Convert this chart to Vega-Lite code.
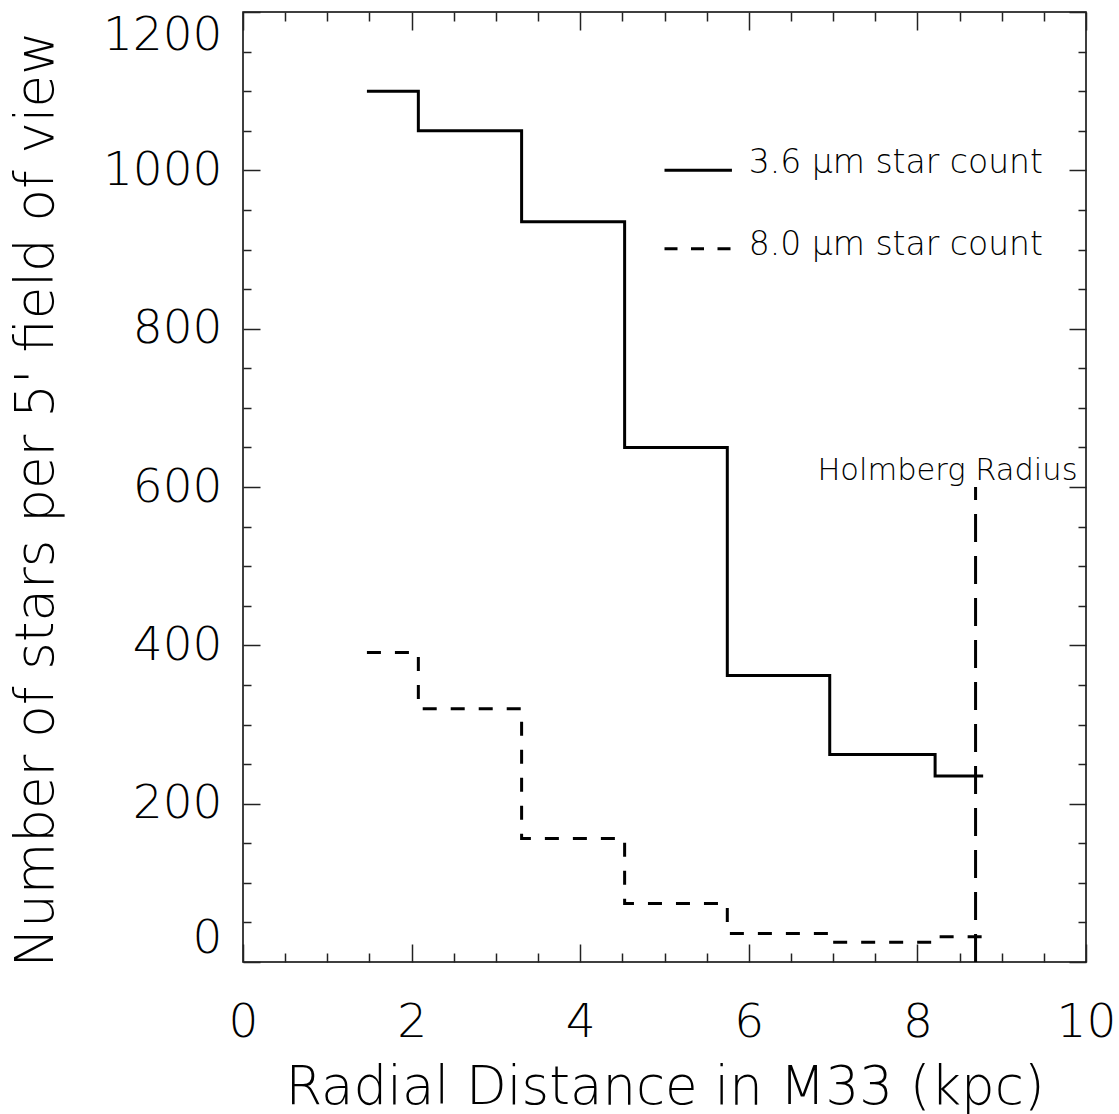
{
  "$schema": "https://vega.github.io/schema/vega-lite/v6.json",
  "width": 843,
  "height": 950,
  "autosize": "none",
  "padding": {"left": 243, "top": 12, "right": 33, "bottom": 152},
  "background": "white",
  "config": {
    "view": {"stroke": "black", "strokeWidth": 1.5},
    "font": "DejaVu Sans",
    "axis": {
      "grid": false,
      "domain": false,
      "tickColor": "#222222",
      "tickWidth": 1.5,
      "labelFont": "DejaVu Sans",
      "titleFont": "DejaVu Sans",
      "labelFontWeight": 200,
      "titleFontWeight": 200,
      "labelColor": "black",
      "titleColor": "black"
    }
  },
  "resolve": {"axis": {"x": "independent", "y": "independent"}},
  "layer": [
    {
      "data": {"values": [
        {"r": 1.47, "n": 1100},
        {"r": 2.08, "n": 1050},
        {"r": 3.305, "n": 935},
        {"r": 4.527, "n": 650},
        {"r": 5.745, "n": 362},
        {"r": 6.96, "n": 262},
        {"r": 8.21, "n": 235},
        {"r": 8.78, "n": 235}
      ]},
      "mark": {"type": "line", "interpolate": "step-after", "strokeWidth": 3, "color": "black"},
      "encoding": {
        "x": {"field": "r", "type": "quantitative",
          "scale": {"domain": [0, 10], "nice": false, "zero": false},
          "axis": {"orient": "bottom", "values": [0, 2, 4, 6, 8, 10], "tickSize": -18, "labelPadding": 55,
            "labelFontSize": 47, "labelFlush": false, "labelOverlap": false, "format": "d",
            "title": "Radial Distance in M33 (kpc)", "titleFontSize": 53, "titleBaseline": "alphabetic", "titleY": 141, "titleX": 421.5}},
        "y": {"field": "n", "type": "quantitative",
          "scale": {"domain": [0, 1200], "nice": false, "zero": false},
          "axis": {"orient": "left", "values": [0, 200, 400, 600, 800, 1000, 1200], "tickSize": -17, "labelPadding": 38,
            "labelFontSize": 47, "labelFlush": true, "labelFlushOffset": 0, "labelOverlap": false, "format": "d",
            "title": "Number of stars per 5' field of view", "titleFontSize": 53, "titleBaseline": "alphabetic", "titleAngle": 270, "titleX": -191, "titleY": 487}}
      }
    },
    {
      "data": {"values": [
        {"r": 1.47, "n": 391},
        {"r": 2.08, "n": 320},
        {"r": 3.305, "n": 156},
        {"r": 4.527, "n": 74},
        {"r": 5.745, "n": 36},
        {"r": 6.96, "n": 25},
        {"r": 8.22, "n": 32},
        {"r": 8.78, "n": 32}
      ]},
      "mark": {"type": "line", "interpolate": "step-after", "strokeWidth": 3, "color": "black", "strokeDash": [14, 14]},
      "encoding": {
        "x": {"field": "r", "type": "quantitative",
          "scale": {"domain": [0, 10], "nice": false, "zero": false},
          "axis": {"orient": "top", "values": [0, 2, 4, 6, 8, 10], "tickSize": -18, "labels": false, "title": null}},
        "y": {"field": "n", "type": "quantitative",
          "scale": {"domain": [0, 1200], "nice": false, "zero": false},
          "axis": {"orient": "right", "values": [0, 200, 400, 600, 800, 1000, 1200], "tickSize": -17, "labels": false, "title": null}}
      }
    },
    {
      "data": {"values": [{"r": 8.69, "n0": 0, "n1": 600}]},
      "mark": {"type": "rule", "strokeWidth": 3, "color": "black", "strokeDash": [28, 14]},
      "encoding": {
        "x": {"field": "r", "type": "quantitative",
          "scale": {"domain": [0, 10], "nice": false, "zero": false},
          "axis": {"orient": "bottom", "values": [0.5, 1, 1.5, 2.5, 3, 3.5, 4.5, 5, 5.5, 6.5, 7, 7.5, 8.5, 9, 9.5], "tickSize": -9, "labels": false, "title": null}},
        "y": {"field": "n0", "type": "quantitative",
          "scale": {"domain": [0, 1200], "nice": false, "zero": false},
          "axis": {"orient": "left", "values": [50, 100, 150, 250, 300, 350, 450, 500, 550, 650, 700, 750, 850, 900, 950, 1050, 1100, 1150], "tickSize": -8, "labels": false, "title": null}},
        "y2": {"field": "n1"}
      }
    },
    {
      "data": {"values": [
        {"r0": 5.0, "r1": 5.8, "n": 1000, "style": "solid"},
        {"r0": 5.0, "r1": 5.8, "n": 901, "style": "dashed"}
      ]},
      "mark": {"type": "rule", "strokeWidth": 3, "color": "black"},
      "encoding": {
        "x": {"field": "r0", "type": "quantitative",
          "scale": {"domain": [0, 10], "nice": false, "zero": false},
          "axis": {"orient": "top", "values": [0.5, 1, 1.5, 2.5, 3, 3.5, 4.5, 5, 5.5, 6.5, 7, 7.5, 8.5, 9, 9.5], "tickSize": -9, "labels": false, "title": null}},
        "x2": {"field": "r1"},
        "y": {"field": "n", "type": "quantitative",
          "scale": {"domain": [0, 1200], "nice": false, "zero": false},
          "axis": {"orient": "right", "values": [50, 100, 150, 250, 300, 350, 450, 500, 550, 650, 700, 750, 850, 900, 950, 1050, 1100, 1150], "tickSize": -8, "labels": false, "title": null}},
        "strokeDash": {"field": "style", "type": "nominal",
          "scale": {"domain": ["solid", "dashed"], "range": [[1, 0], [13, 13.5]]}, "legend": null}
      }
    },
    {
      "data": {"values": [
        {"r": 6.0, "n": 1009, "label": "3.6 μm star count"},
        {"r": 6.0, "n": 906, "label": "8.0 μm star count"}
      ]},
      "mark": {"type": "text", "align": "left", "baseline": "middle", "fontSize": 33, "fontWeight": 200, "font": "DejaVu Sans", "color": "black"},
      "encoding": {
        "x": {"field": "r", "type": "quantitative", "scale": {"domain": [0, 10], "nice": false, "zero": false}, "axis": null},
        "y": {"field": "n", "type": "quantitative", "scale": {"domain": [0, 1200], "nice": false, "zero": false}, "axis": null},
        "text": {"field": "label"}
      }
    },
    {
      "data": {"values": [
        {"r": 9.9, "n": 609, "label": "Holmberg Radius"}
      ]},
      "mark": {"type": "text", "align": "right", "baseline": "alphabetic", "fontSize": 30.5, "fontWeight": 200, "font": "DejaVu Sans", "color": "black"},
      "encoding": {
        "x": {"field": "r", "type": "quantitative", "scale": {"domain": [0, 10], "nice": false, "zero": false}, "axis": null},
        "y": {"field": "n", "type": "quantitative", "scale": {"domain": [0, 1200], "nice": false, "zero": false}, "axis": null},
        "text": {"field": "label"}
      }
    }
  ]
}
